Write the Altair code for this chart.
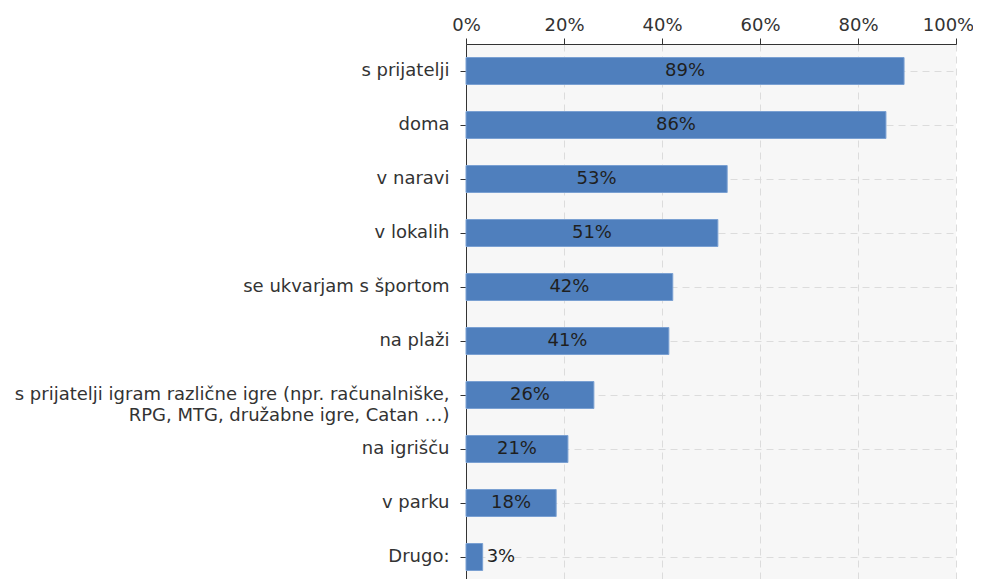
import altair as alt
import pandas as pd

categories = [
    "s prijatelji",
    "doma",
    "v naravi",
    "v lokalih",
    "se ukvarjam s športom",
    "na plaži",
    "s prijatelji igram različne igre (npr. računalniške,|RPG, MTG, družabne igre, Catan …)",
    "na igrišču",
    "v parku",
    "Drugo:",
]
values = [89.4, 85.7, 53.3, 51.4, 42.2, 41.4, 26.1, 20.8, 18.4, 3.4]
tick_values = [0, 0.2, 0.4, 0.6, 0.8, 1.0]

df = pd.DataFrame({"cat": categories, "pct": [v / 100 for v in values]})

FONT = "DejaVu Sans"
FS = 18

y_enc = alt.Y(
    "cat:N",
    sort=None,
    title=None,
    scale=alt.Scale(paddingInner=0.5, paddingOuter=0.25),
    axis=alt.Axis(
        labelExpr="split(datum.label, '|')",
        labelLineHeight=21,
        labelFont=FONT,
        labelFontSize=FS,
        labelColor="#333333",
        labelPadding=11,
        labelLimit=600,
        tickSize=6,
        tickColor="#333333",
        domainColor="#333333",
        grid=True,
        gridColor="#dcdcdc",
        gridDash=[7, 5],
    ),
)

x_enc = alt.X(
    "pct:Q",
    title=None,
    scale=alt.Scale(domain=[0, 1], nice=False),
    axis=alt.Axis(
        orient="top",
        values=tick_values,
        format=".0%",
        labelFont=FONT,
        labelFontSize=FS,
        labelColor="#333333",
        labelPadding=4,
        labelFlush=False,
        labelOffset={"expr": "datum.value == 1 ? -8 : 0"},
        tickSize=6,
        tickColor="#333333",
        domainColor="#333333",
        grid=True,
        gridColor="#dcdcdc",
        gridDash=[7, 5],
    ),
)

base = alt.Chart(df)

bars = base.mark_bar(
    color="#4f7fbd", stroke="#7aa0d2", strokeWidth=1
).encode(x=x_enc, y=y_enc)

inside = base.transform_filter("datum.pct >= 0.1").transform_calculate(
    mid="datum.pct / 2"
).mark_text(
    align="center", baseline="middle", font=FONT, fontSize=FS, color="#1f1f1f"
).encode(
    x=alt.X("mid:Q"),
    y=alt.Y("cat:N", sort=None),
    text=alt.Text("pct:Q", format=".0%"),
)

outside = base.transform_filter("datum.pct < 0.1").mark_text(
    align="left", baseline="middle", dx=4, font=FONT, fontSize=FS, color="#1f1f1f"
).encode(
    x=alt.X("pct:Q"),
    y=alt.Y("cat:N", sort=None),
    text=alt.Text("pct:Q", format=".0%"),
)

chart = (
    alt.layer(bars, inside, outside)
    .properties(
        width=490,
        height=540,
        autosize=alt.AutoSizeParams(type="none"),
        padding={"left": 458, "top": 36, "right": 17, "bottom": 0},
        background="white",
    )
    .configure_view(fill="#f7f7f7", stroke=None)
)

chart.save("out.html", embed_options={"renderer": "svg", "actions": False})
